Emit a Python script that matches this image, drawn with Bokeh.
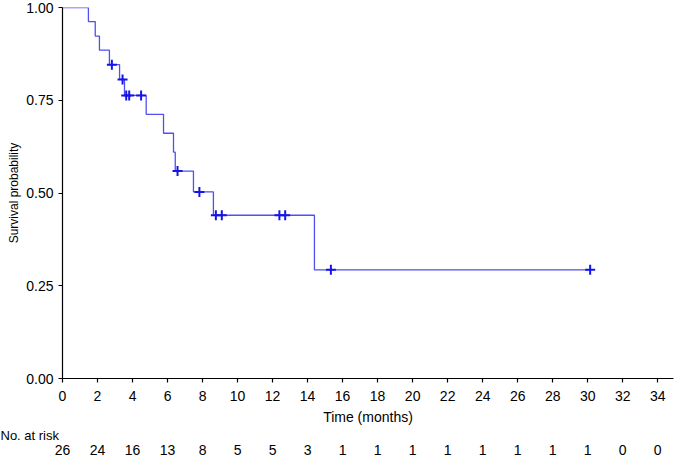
from bokeh.plotting import figure
from bokeh.models import (FixedTicker, NumeralTickFormatter, LinearAxis, Title, Range1d)
from bokeh.embed import file_html
from bokeh.resources import INLINE

# Kaplan-Meier step curve
step_time = [0, 1.48, 1.87, 2.11, 2.68, 3.26, 3.54, 4.78, 5.77, 6.34, 6.44, 7.48, 8.62, 14.39, 30.14]
step_surv = [1.0, 0.962, 0.923, 0.885, 0.846, 0.806, 0.763, 0.712, 0.661, 0.610, 0.559, 0.503, 0.440, 0.293, 0.293]

# censoring marks
cens_time = [2.82, 3.43, 3.64, 3.81, 4.49, 6.57, 7.82, 8.76, 9.10, 12.39, 12.72, 15.33, 30.14]
cens_surv = [0.846, 0.806, 0.763, 0.763, 0.763, 0.559, 0.503, 0.440, 0.440, 0.440, 0.440, 0.293, 0.293]

# number at risk table
risk_time = [0, 2, 4, 6, 8, 10, 12, 14, 16, 18, 20, 22, 24, 26, 28, 30, 32, 34]
risk_n = [26, 24, 16, 13, 8, 5, 5, 3, 1, 1, 1, 1, 1, 1, 1, 1, 0, 0]

x_ticks = list(range(0, 35, 2))
y_ticks = [0, 0.25, 0.5, 0.75, 1.0]

FONT = "Liberation Sans"

p = figure(width=676, height=457, output_backend="svg", toolbar_location=None,
           x_range=Range1d(0, 34.9), y_range=Range1d(0, 1.0),
           min_border_left=62, min_border_right=3, min_border_top=7,
           min_border_bottom=78, background_fill_color="white",
           border_fill_color="white")
p.outline_line_color = None
p.grid.visible = False

p.step(step_time, step_surv, mode="after", line_color="#4f4ff2", line_width=1.3)
p.scatter(cens_time, cens_surv, marker="cross", size=10, line_color="#1414e6",
          line_width=2)

def style(ax):
    ax.axis_line_color = "black"
    ax.axis_line_width = 1.2
    ax.major_tick_line_color = "black"
    ax.major_tick_line_width = 1.2
    ax.major_tick_out = 4
    ax.major_tick_in = 0
    ax.minor_tick_line_color = None
    ax.major_label_text_font = FONT
    ax.major_label_text_font_size = "14px"
    ax.major_label_text_color = "black"
    ax.axis_label_text_font = FONT
    ax.axis_label_text_font_style = "normal"
    ax.axis_label_text_color = "black"

style(p.xaxis[0])
style(p.yaxis[0])

p.xaxis.ticker = FixedTicker(ticks=x_ticks)
p.xaxis.major_label_standoff = 8
p.xaxis.axis_label = "Time (months)"
p.xaxis.axis_label_text_font_size = "14px"
p.xaxis.axis_label_standoff = 5

p.yaxis.ticker = FixedTicker(ticks=y_ticks)
p.yaxis.formatter = NumeralTickFormatter(format="0.00")
p.yaxis.major_label_standoff = 5
p.yaxis.axis_label = "Survival probability"
p.yaxis.axis_label_text_font_size = "12px"
p.yaxis.axis_label_standoff = 2

# "No. at risk" heading and the at-risk table as an extra axis
risk_title = Title(text="No. at risk", align="left", offset=-62, vertical_align="top",
                   text_font=FONT, text_font_size="13px", text_font_style="normal",
                   text_color="black", standoff=0)
p.add_layout(risk_title, "below")

risk_axis = LinearAxis(ticker=FixedTicker(ticks=risk_time),
                       major_label_overrides={t: str(n) for t, n in zip(risk_time, risk_n)})
style(risk_axis)
risk_axis.axis_line_color = None
risk_axis.major_tick_line_color = None
risk_axis.major_tick_out = 0
risk_axis.major_label_standoff = 0
p.add_layout(risk_axis, "below")

open("out.html", "w").write(file_html(p, INLINE))
